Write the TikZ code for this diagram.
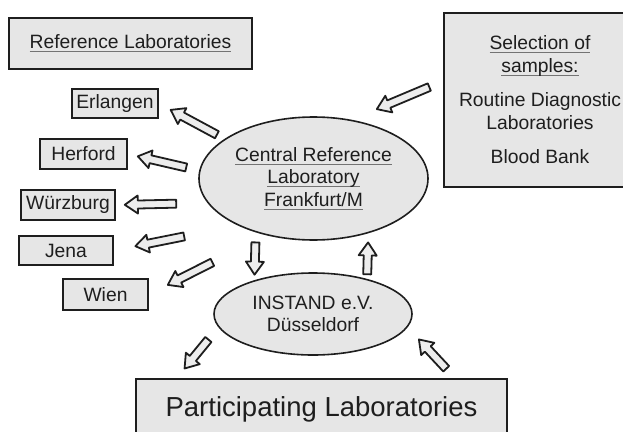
\documentclass[tikz,border=0pt]{standalone}
\usepackage{fontspec}
\setmainfont{Liberation Sans}
\usetikzlibrary{calc, shapes.geometric}

\definecolor{boxgray}{HTML}{E6E6E6}
\definecolor{linegray}{HTML}{1E1E1E}
\definecolor{textgray}{HTML}{1E1E1E}
\newcommand{\labline}[1]{\setbox0\hbox{#1}\rlap{\textcolor{black!55}{\rule[-3.2pt]{\wd0}{0.9pt}}}\box0}

\begin{document}
\begin{tikzpicture}[x=1pt, y=-1pt,
	every node/.style={font=\fontsize{19.3}{22.5}\selectfont, text=textgray, inner sep=0pt},
	lab/.style={rectangle, draw=linegray, line width=1.6pt, fill=boxgray, minimum height=29pt},
	site/.style={ellipse, draw=linegray, line width=1.6pt, fill=boxgray, align=center},
	blockarr/.style 2 args={draw=linegray, fill=white!93!black, line width=1.8pt, line join=round,
		to path={let \p1=($(\tikztostart)!#1!(\tikztotarget)$),
			\p2=($(\tikztotarget)!#2!(\tikztostart)$),
			\p3=($(\p2)!13pt!(\p1)$) in
			($(\p1)!4pt!90:(\p2)$) -- ($(\p3)!4pt!90:(\p2)$) -- ($(\p3)!9pt!90:(\p2)$) -- (\p2)
			-- ($(\p3)!9pt!-90:(\p2)$) -- ($(\p3)!4pt!-90:(\p2)$) -- ($(\p1)!4pt!-90:(\p2)$) -- cycle}}]
	\useasboundingbox (0,0) rectangle (623,431);
	\clip (0,0) rectangle (623,431);

	\node[lab, minimum width=243pt, minimum height=51pt] (reflabs) at (130.5,43.5) {\labline{Reference Laboratories}};
	\node[lab, minimum width=86pt] (erlangen) at (115,103.5) {Erlangen};
	\node[lab, minimum width=87pt, minimum height=30pt] (herford) at (83.5,154) {Herford};
	\node[lab, minimum width=94pt, minimum height=30pt] (wuerzburg) at (68,205) {Würzburg};
	\node[lab, minimum width=94pt] (jena) at (66,250.5) {Jena};
	\node[lab, minimum width=85pt, minimum height=31pt] (wien) at (105.5,294.5) {Wien};

	\node[site, minimum width=229pt, minimum height=123pt] (central) at (313.5,178.5)
		{\labline{Central Reference}\\\labline{Laboratory}\\\labline{Frankfurt/M}};
	\node[site, minimum width=198pt, minimum height=82pt] (instand) at (313,314) {INSTAND e.V.\\Düsseldorf};

	\node[lab, minimum width=192pt, minimum height=174pt, align=center] (selection) at (540,100)
		{\labline{Selection of}\\\labline{samples:}\\[12pt]Routine Diagnostic\\Laboratories\\[12pt]Blood Bank};
	\node[lab, minimum width=371pt, minimum height=60pt, font=\fontsize{27.5}{30}\selectfont] (participating) at (321.5,409)
		{Participating Laboratories};

	\draw[blockarr={8.7pt}{13.5pt}] (central.156) to (erlangen.east);
	\draw[blockarr={13.3pt}{10.3pt}] (central.176) to (herford.east);
	\draw[blockarr={31.3pt}{9pt}] (central.193) to (wuerzburg.east);
	\draw[blockarr={55pt}{22pt}] (central.212) to (jena.east);
	\draw[blockarr={60pt}{21.3pt}] (central.230) to (wien.east);
	\draw[blockarr={15.1pt}{27.3pt}] (selection.169) to (central.57);
	\draw[blockarr={10pt}{5.5pt}] (central.223) to (instand.150);
	\draw[blockarr={4.6pt}{9.1pt}] (instand.33) to (central.315);
	\draw[blockarr={15.8pt}{12.6pt}] (instand.188) to (participating.168);
	\draw[blockarr={12.9pt}{16.6pt}] (participating.13) to (instand.352);
\end{tikzpicture}
\end{document}
